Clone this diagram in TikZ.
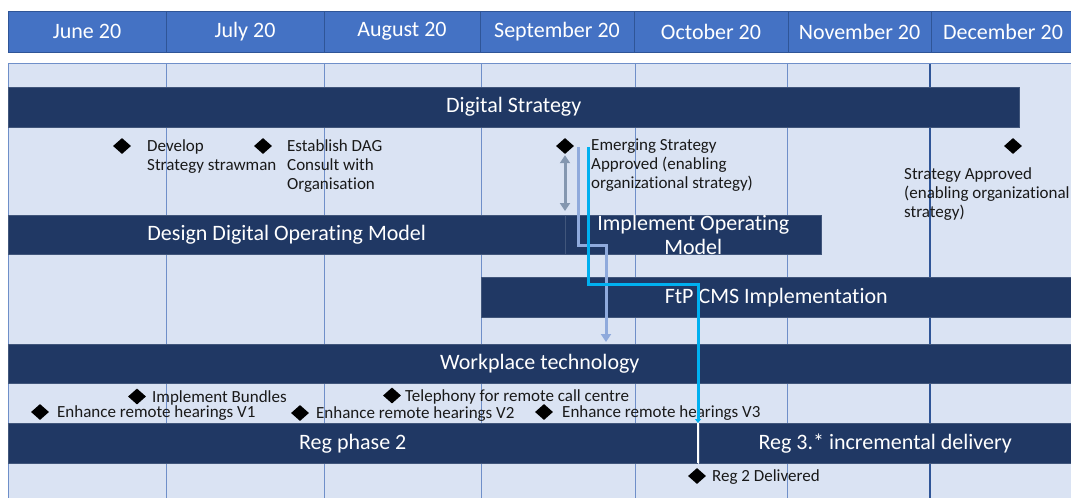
\documentclass[tikz,border=0pt]{standalone}
\usepackage{fontspec}
\setmainfont{Carlito}[Ligatures=NoCommon]
\usetikzlibrary{shapes.geometric,arrows.meta}

\definecolor{hdrblue}{HTML}{4472C4}
\definecolor{hdrline}{HTML}{2F5597}
\definecolor{bodyblue}{HTML}{DAE3F3}
\definecolor{gridblue}{HTML}{6F8FC9}
\definecolor{navy}{HTML}{203864}
\definecolor{arrowgray}{HTML}{8497B0}
\definecolor{lilac}{HTML}{8FAADC}
\definecolor{cyanline}{HTML}{00B0F0}

\begin{document}
\begin{tikzpicture}[x=1pt,y=-1pt,
	monthbox/.style={fill=hdrblue,draw=hdrline,line width=0.8pt},
	monthtext/.style={text=white,inner sep=0pt,font=\fontsize{22}{24}\selectfont},
	bar/.style={fill=navy,draw=navy!85!white,line width=0.5pt,inner sep=0pt,minimum height=40pt,anchor=north west,text=white,align=center,font=\fontsize{22}{23.5}\selectfont},
	milestone/.style={diamond,fill=black,inner sep=0pt,minimum width=18pt,minimum height=16pt},
	note/.style={anchor=base west,inner sep=0pt,align=left,text=black!90,font=\fontsize{17}{18.8}\selectfont},
	link/.style={line width=3pt,-{Triangle[width=10pt,length=8pt]}}]
	\useasboundingbox (0,0) rectangle (1071,498);
	\fill[white] (0,0) rectangle (1071,498);

	% month header
	\foreach \l/\r/\m [count=\i] in {8/166/June 20,166/324/July 20,324/480/August 20,480/634/September 20,634/788/October 20,788/931/November 20,931/1075/December 20}{
		\draw[monthbox] (\l,11) rectangle (\r,52);
		\node[monthtext] (month\i) at ({(\l+\r)/2},31.5) {\m};
	}

	% grid
	\draw[fill=bodyblue,draw=gridblue,line width=0.8pt] (8,63.5) rectangle (1075,502);
	\foreach \x in {166,324,481,635,787}
		\draw[gridblue,line width=0.8pt] (\x,63.5) -- (\x,498);
	\draw[hdrline,line width=1.1pt] (930,63.5) -- (930,498);

	% bars
	\node[bar,minimum width=1011pt] (digital) at (8,87) {Digital Strategy};
	\node[bar,minimum width=557pt,minimum height=39pt] (design) at (8,215) {Design Digital Operating Model};
	\node[bar,minimum width=256pt,minimum height=39pt] (implement) at (565,215) {Implement Operating\\Model};
	\node[bar,minimum width=590pt] (ftp) at (481,277) {FtP CMS Implementation};
	\node[bar,minimum width=1063pt,minimum height=39pt] (work) at (8,344) {Workplace technology};
	\node[bar,minimum width=689pt] (reg2) at (8,423) {Reg phase 2};
	\node[bar,minimum width=372pt] (reg3) at (699,423) {Reg 3.* incremental delivery};
	\fill[white] (697,423) rectangle (699,463);

	% milestones (notes sit on the baseline of their last line)
	\node[milestone] (ms1) at (122,146) {};
	\node[note] (develop) at (147,170.3) {Develop\\Strategy strawman};
	\node[milestone] (ms2) at (263,146) {};
	\node[note] (dag) at (287,189.1) {Establish DAG\\Consult with\\Organisation};
	\node[milestone] (ms3) at (565,146) {};
	\node[note] (emerging) at (591,188.1) {Emerging Strategy\\Approved (enabling\\organizational strategy)};
	\node[milestone] (ms4) at (1013,146) {};
	\node[note] (approved) at (904,217.1) {Strategy Approved\\(enabling organizational\\strategy)};

	\node[milestone] (ms5) at (137,396.5) {};
	\node[note] (bundles) at (152,402) {Implement Bundles};
	\node[milestone] (ms6) at (392,395.5) {};
	\node[note] (telephony) at (405,401) {Telephony for remote call centre};
	\node[milestone] (ms7) at (40,412) {};
	\node[note] (hearing1) at (57,417.5) {Enhance remote hearings V1};
	\node[milestone] (ms8) at (300,413) {};
	\node[note] (hearing2) at (316,418.5) {Enhance remote hearings V2};
	\node[milestone] (ms9) at (544,412) {};
	\node[note] (hearing3) at (562,417.5) {Enhance remote hearings V3};
	\node[milestone] (ms10) at (697,476) {};
	\node[note] (delivered) at (712,481.5) {Reg 2 Delivered};

	% dependencies
	\draw[arrowgray,line width=3pt,{Triangle[width=10pt,length=8pt]}-{Triangle[width=10pt,length=8pt]},shorten >=4pt,shorten <=1pt] (ms3.south) -- (ms3.south |- design.north);

	\coordinate (lilacstart) at (578,147);
	\coordinate (lilacbend) at (606,245);
	\draw[link,lilac,shorten >=2pt] (lilacstart) |- (lilacbend) -- (lilacbend |- work.north);

	\coordinate (cyanstart) at (588,147);
	\coordinate (cyanbend) at (698,284);
	\draw[cyanline,line width=3pt,-{Triangle[width=6pt,length=4pt]}] (cyanstart) |- (cyanbend) -- (cyanbend |- reg2.north);

\end{tikzpicture}
\end{document}
